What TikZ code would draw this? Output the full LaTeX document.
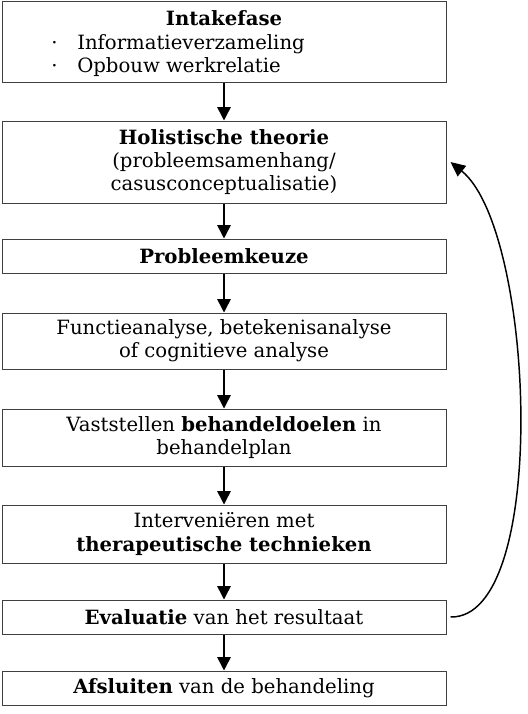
\documentclass[tikz,border=0pt]{standalone}
\usepackage{fontspec}
\setmainfont{DejaVu Serif}
\usetikzlibrary{arrows.meta}
\begin{document}
\begin{tikzpicture}[x=0.75pt,y=-0.75pt,
  stepbox/.style={draw=black!75,line width=0.75pt,minimum width=333pt,inner sep=0pt,
    align=center,font=\fontsize{14.75}{17.5}\selectfont},
  txt/.style={inner sep=0pt,font=\fontsize{14.75}{17.5}\selectfont},
  flow/.style={line width=1.1pt,-{Triangle[width=10pt,length=10pt]}},
  back/.style={line width=1.1pt,-{Triangle[width=10pt,length=11pt]}}]
\useasboundingbox (0,0) rectangle (528,714);
\node[stepbox,minimum height=60.75pt] (intake) at (224,41.5) {};
\node[txt,anchor=base] (intaket) at (224,25) {\textbf{Intakefase}};
\node[txt,anchor=base west] (b1) at (51,49) {·};
\node[txt,anchor=base west] (i1) at (77,49) {Informatieverzameling};
\node[txt,anchor=base west] (b2) at (51,72) {·};
\node[txt,anchor=base west] (i2) at (77,72) {Opbouw werkrelatie};
\node[stepbox,minimum height=61.5pt] (hol) at (224,162) {\textbf{Holistische theorie}\\(probleemsamenhang/\\casusconceptualisatie)};
\node[stepbox,minimum height=25.5pt] (keuze) at (224,256) {\textbf{Probleemkeuze}};
\node[stepbox,minimum height=42pt] (analyse) at (224,341) {Functieanalyse, betekenisanalyse\\of cognitieve analyse};
\node[stepbox,minimum height=42.75pt] (doelen) at (224,437.5) {Vaststellen \textbf{behandeldoelen} in\\behandelplan};
\node[stepbox,minimum height=43.5pt] (interv) at (224,534) {Interveniëren met\\\textbf{therapeutische technieken}};
\node[stepbox,minimum height=25.5pt] (eval) at (224,617) {\textbf{Evaluatie} van het resultaat};
\node[stepbox,minimum height=25.5pt] (afsl) at (224,688) {\textbf{Afsluiten} van de behandeling};
\draw[flow] (intake) -- (hol);
\draw[flow] (hol) -- (keuze);
\draw[flow] (keuze) -- (analyse);
\draw[flow] (analyse) -- (doelen);
\draw[flow] (doelen) -- (interv);
\draw[flow] (interv) -- (eval);
\draw[flow] (eval) -- (afsl);
\coordinate (evs) at ([xshift=3pt]eval.east);
\coordinate (hoe) at ([xshift=3pt]hol.east);
\draw[back] (evs) .. controls (550,619) and (535,230) .. (hoe);
\end{tikzpicture}
\end{document}
